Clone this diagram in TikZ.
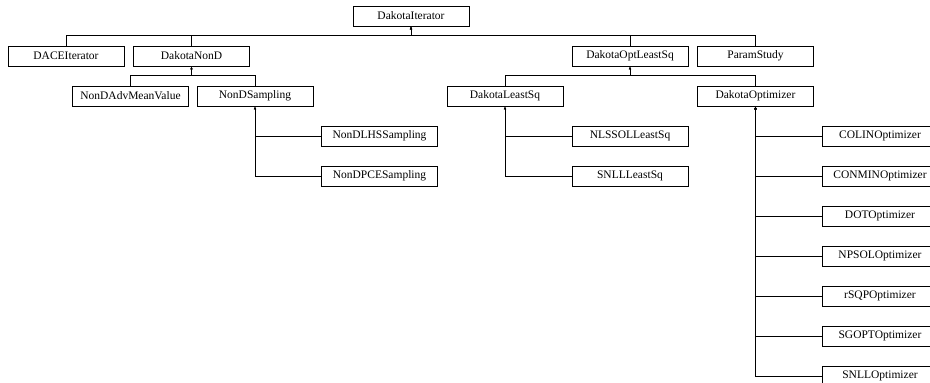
\documentclass[tikz,border=0pt]{standalone}
\usepackage{fontspec}
\setmainfont{Liberation Serif}
\usetikzlibrary{arrows.meta}

\begin{document}
\begin{tikzpicture}[x=1pt, y=-1pt,
		clsbox/.style={draw=black, fill=white, rectangle, minimum width=116pt,
				minimum height=20pt, inner sep=0pt, line width=0.8pt,
				font=\fontsize{11.5}{13}\selectfont},
		ar/.style={-{Latex[length=3pt,width=2.6pt]}, line width=0.8pt},
	]
	\useasboundingbox (0,0) rectangle (930,383);
	\clip (0,0) rectangle (930,383);
	\node[clsbox] (iter)   at (411,16)    {DakotaIterator};
	\node[clsbox] (dace)   at (66,56)     {DACEIterator};
	\node[clsbox] (nond)   at (191.5,56)  {DakotaNonD};
	\node[clsbox] (optls)  at (630,56)    {DakotaOptLeastSq};
	\node[clsbox] (pstudy) at (755.5,56)  {ParamStudy};
	\draw[ar] (dace.north)   -- ++(0,-10) -| (iter.south);
	\draw[ar] (nond.north)   -- ++(0,-10) -| (iter.south);
	\draw[ar] (optls.north)  -- ++(0,-10) -| (iter.south);
	\draw[ar] (pstudy.north) -- ++(0,-10) -| (iter.south);
	\node[clsbox] (advmv) at (130.5,96) {NonDAdvMeanValue};
	\node[clsbox] (nsamp) at (255,96)   {NonDSampling};
	\node[clsbox] (lsq)   at (505,96)   {DakotaLeastSq};
	\node[clsbox] (opt)   at (755.5,96) {DakotaOptimizer};
	\draw[ar] (advmv.north) -- ++(0,-10) -| (nond.south);
	\draw[ar] (nsamp.north) -- ++(0,-10) -| (nond.south);
	\draw[ar] (lsq.north)   -- ++(0,-10) -| (optls.south);
	\draw[ar] (opt.north)   -- ++(0,-10) -| (optls.south);
	\node[clsbox] (lhs)    at (379.5,136) {NonDLHSSampling};
	\node[clsbox] (pce)    at (379.5,176) {NonDPCESampling};
	\node[clsbox] (nlssol) at (630,136)   {NLSSOLLeastSq};
	\node[clsbox] (snllls) at (630,176)   {SNLLLeastSq};
	\draw[ar] (lhs.west)    -| (nsamp.south);
	\draw[ar] (pce.west)    -| (nsamp.south);
	\draw[ar] (nlssol.west) -| (lsq.south);
	\draw[ar] (snllls.west) -| (lsq.south);
	% optimizer subclasses
	\foreach \nm/\txt [count=\i from 0] in {colin/COLINOptimizer, conmin/CONMINOptimizer,
			dot/DOTOptimizer, npsol/NPSOLOptimizer, rsqp/rSQPOptimizer,
			sgopt/SGOPTOptimizer, snllopt/SNLLOptimizer} {
		\node[clsbox] (\nm) at (880,136+40*\i) {\txt};
		\draw[ar] (\nm.west) -| (opt.south);
	}
\end{tikzpicture}
\end{document}
